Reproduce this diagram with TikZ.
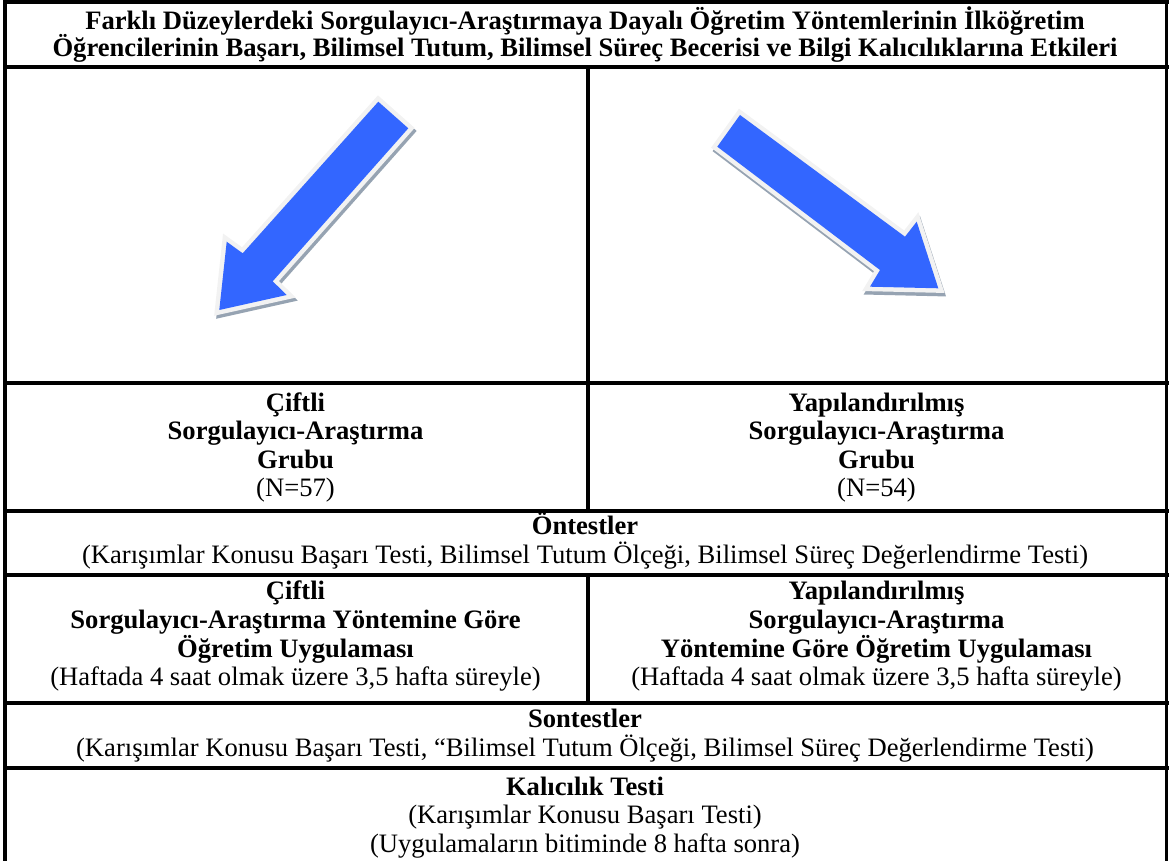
\documentclass[tikz,border=0pt]{standalone}
\usepackage{fontspec}
\setmainfont{Liberation Serif}
\definecolor{arrblue}{RGB}{51,102,255}
\definecolor{arrrim}{RGB}{242,242,242}
\definecolor{arrshadow}{RGB}{150,163,178}
\tikzset{
  pics/leftarrow/.style={code={
    \path[pic actions] (219.3,310) -- (226.7,241.7) -- (242.7,253.3) -- (378.3,101.7)
      -- (408.3,128.3) -- (272.7,281.3) -- (286.7,295) -- cycle;}},
  pics/rightarrow/.style={code={
    \path[pic actions] (740,115) -- (905,236.7) -- (916.7,221.7) -- (938.3,288.3)
      -- (870,286.7) -- (880,270) -- (717.3,146.7) -- cycle;}},
}
% centred lines with a fixed baseline distance; the box baseline is the first line's
\newcommand{\cellbox}[2][14.25pt]{\vtop{\baselineskip=#1\lineskiplimit=-\maxdimen
  \halign{\hfil##\hfil\cr#2\crcr}}}
\begin{document}
\begin{tikzpicture}[x=0.5pt,y=-0.5pt,
  rule/.style={line width=2pt, line cap=rect},
  cell/.style={anchor=base, inner sep=0pt, font=\fontsize{13.3}{14.25}\selectfont},
  arrowshadow/.style={fill=arrshadow, draw=arrshadow, line width=4.5pt, line join=miter},
  arrowrim/.style={fill=arrrim, draw=arrrim, line width=4.5pt, line join=miter},
  arrowbody/.style={fill=arrblue}]
\useasboundingbox (0,0) rectangle (1169,861);
\clip (0,0) rectangle (1169,861);

% table frame and row rules
\draw[rule] (4.5,2) -- (1166.5,2);
\draw[rule] (4.5,2) -- (4.5,880);
\draw[line width=1.6pt] (1166.5,2) -- (1166.5,880);
\foreach \yy in {67.5,383.5,511.5,575.5,703,768}
  \draw[rule] (4.5,\yy) -- (1166.5,\yy);
\draw[rule] (587.5,67.5) -- (587.5,511.5);
\draw[rule] (587.5,575.5) -- (587.5,703);

% arrows in the two group cells
\pic[arrowshadow] at (2,3) {leftarrow};
\pic[arrowrim] at (0,0) {leftarrow};
\pic[arrowbody] at (0,0) {leftarrow};
\pic[arrowshadow] at (1.5,3.5) {rightarrow};
\pic[arrowrim] at (0,0) {rightarrow};
\pic[arrowbody] at (0,0) {rightarrow};

% cell texts
\node[cell] (title) at (585,29.3) {\bfseries\cellbox[13.8pt]{Farklı Düzeylerdeki Sorgulayıcı-Araştırmaya Dayalı Öğretim Yöntemlerinin İlköğretim\cr
  Öğrencilerinin Başarı, Bilimsel Tutum, Bilimsel Süreç Becerisi ve Bilgi Kalıcılıklarına Etkileri}};

\node[cell] (grpA) at (295.5,411.5) {\cellbox{\textbf{Çiftli}\cr \textbf{Sorgulayıcı-Araştırma}\cr \textbf{Grubu}\cr (N=57)}};
\node[cell] (grpB) at (876.5,411.5) {\cellbox{\textbf{Yapılandırılmış}\cr \textbf{Sorgulayıcı-Araştırma}\cr \textbf{Grubu}\cr (N=54)}};

\node[cell] (pre) at (585,535) {\cellbox{\textbf{Öntestler}\cr (Karışımlar Konusu Başarı Testi, Bilimsel Tutum Ölçeği, Bilimsel Süreç Değerlendirme Testi)}};

\node[cell] (trA) at (295.5,600) {\cellbox{\textbf{Çiftli}\cr \textbf{Sorgulayıcı-Araştırma Yöntemine Göre}\cr \textbf{Öğretim Uygulaması}\cr (Haftada 4 saat olmak üzere 3,5 hafta süreyle)}};
\node[cell] (trB) at (876.5,600) {\cellbox{\textbf{Yapılandırılmış}\cr \textbf{Sorgulayıcı-Araştırma}\cr \textbf{Yöntemine Göre Öğretim Uygulaması}\cr (Haftada 4 saat olmak üzere 3,5 hafta süreyle)}};

\node[cell] (post) at (585,727.5) {\cellbox{\textbf{Sontestler}\cr (Karışımlar Konusu Başarı Testi, “Bilimsel Tutum Ölçeği, Bilimsel Süreç Değerlendirme Testi)}};

\node[cell] (ret) at (585,795) {\cellbox{\textbf{Kalıcılık Testi}\cr (Karışımlar Konusu Başarı Testi)\cr (Uygulamaların bitiminde 8 hafta sonra)}};
\end{tikzpicture}
\end{document}
